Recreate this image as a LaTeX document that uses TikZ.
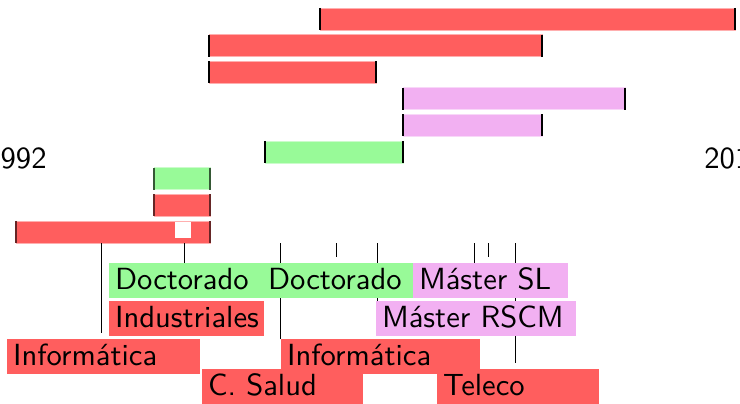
\documentclass[tikz,border=0pt]{standalone}
\definecolor{cred}{RGB}{255,94,94}
\definecolor{cgreen}{RGB}{152,250,152}
\definecolor{cpink}{RGB}{242,176,242}
\newcommand\bigtxt[1]{\scalebox{3.06}{\fontsize{10}{12}\selectfont\sffamily #1}}
\tikzset{
  bar/.style={rectangle, minimum height=22pt, inner sep=0pt, outer sep=0pt, anchor=north west, line width=0.6pt},
  redbar/.style={bar, fill=cred, draw=cred!50!white},
  greenbar/.style={bar, fill=cgreen, draw=cgreen!50!white},
  pinkbar/.style={bar, fill=cpink, draw=cpink!50!white},
  endtick/.style={line width=1.1pt, draw=black},
  conn/.style={line width=0.8pt, draw=black},
  lbl/.style={rectangle, anchor=north west, inner xsep=6pt, inner ysep=3.5pt, outer sep=0pt,
    text height=23pt, text depth=5pt, align=left, text width=#1},
  yearlbl/.style={anchor=base, inner sep=0pt}
}
\begin{document}
\begin{tikzpicture}[x=1pt, y=-1pt]
\useasboundingbox (0,0) rectangle (740,404);
\clip (0,0) rectangle (740,404);
% years
\node[yearlbl] (y1992) at (16,168) {\bigtxt{1992}};
\node[yearlbl] (y2018) at (735,168) {\bigtxt{2018}};
% bars
\node[redbar, minimum width=415pt] (b1) at (320,8) {};
\node[redbar, minimum width=333pt] (b2) at (209,34.6) {};
\node[redbar, minimum width=167pt] (b3) at (209,61.2) {};
\node[pinkbar, minimum width=222pt] (b4) at (403,87.8) {};
\node[pinkbar, minimum width=139pt] (b5) at (403,114.4) {};
\node[greenbar, minimum width=138pt] (b6) at (265,141) {};
\node[greenbar, minimum width=56pt] (b7) at (154,167.6) {};
\node[redbar, minimum width=56pt] (b8) at (154,194.2) {};
\node[redbar, minimum width=194pt] (b9) at (16,220.8) {};
\node[rectangle, fill=white, inner sep=0pt, minimum width=16pt, minimum height=16pt, anchor=north west] (hole) at (175,222) {};
% bar end ticks
\foreach \b in {b1,b2,b3,b4,b5,b6}{
  \draw[endtick] (\b.north west) -- (\b.south west);
  \draw[endtick] (\b.north east) -- (\b.south east);
}
\draw[endtick, draw=cgreen!35!black] (b7.north west) -- (b7.south west);
\draw[endtick, draw=cgreen!35!black] (b7.north east) -- (b7.south east);
\draw[endtick, draw=cred!40!black] (b8.north west) -- (b8.south west);
\draw[endtick, draw=cred!40!black] (b8.north east) -- (b8.south east);
\draw[endtick, draw=cred!40!black] (b9.north west) -- (b9.south west);
\draw[endtick, draw=cred!40!black] (b9.north east) -- (b9.south east);
% connector coordinates
\coordinate (k1a) at (101,243); \coordinate (k1b) at (101,333);
\coordinate (k2a) at (184,243); \coordinate (k2b) at (184,264);
\coordinate (k3a) at (280,243); \coordinate (k3b) at (280,339);
\coordinate (k4a) at (336,243); \coordinate (k4b) at (336,257);
\coordinate (k5a) at (377,243); \coordinate (k5b) at (377,302);
\coordinate (k6a) at (474,243); \coordinate (k6b) at (474,264);
\coordinate (k7a) at (488,243); \coordinate (k7b) at (488,257);
\coordinate (k8a) at (515,243); \coordinate (k8b) at (515,363);
\foreach \k in {1,...,8}{ \draw[conn] (k\k a) -- (k\k b); }
% labels
\node[lbl=141pt, fill=cgreen] (l1) at (109,263) {\bigtxt{Doctorado}};
\node[lbl=139pt, fill=cgreen] (l2) at (262,263) {\bigtxt{Doctorado}};
\node[lbl=143pt, fill=cpink] (l3) at (413,263) {\bigtxt{Máster SL}};
\node[lbl=143pt, fill=cred] (l4) at (109,301) {\bigtxt{Industriales}};
\node[lbl=188pt, fill=cpink] (l5) at (376,301) {\bigtxt{Máster RSCM}};
\node[lbl=181pt, fill=cred] (l6) at (7,338.5) {\bigtxt{Informática}};
\node[lbl=187pt, fill=cred] (l7) at (281,338.5) {\bigtxt{Informática}};
\node[lbl=149pt, fill=cred] (l8) at (202,369) {\bigtxt{C. Salud}};
\node[lbl=150pt, fill=cred] (l9) at (437,369) {\bigtxt{Teleco}};
\end{tikzpicture}
\end{document}
